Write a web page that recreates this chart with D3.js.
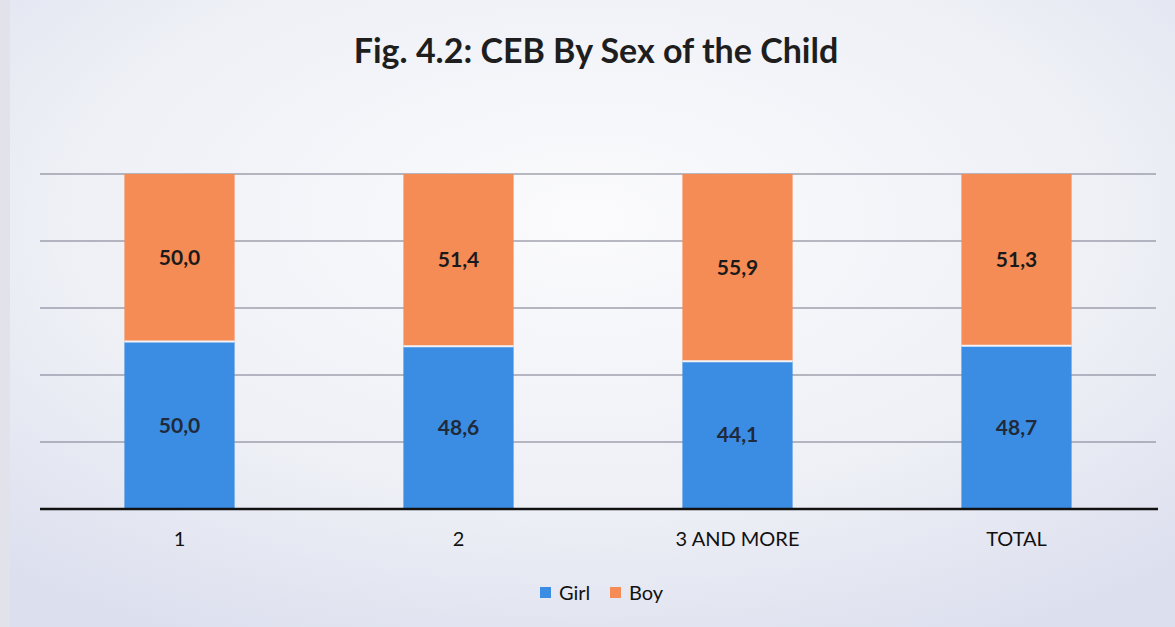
<!DOCTYPE html>
<html>
<head>
<meta charset="utf-8">
<script src="https://cdn.jsdelivr.net/npm/d3@7"></script>
<style>
  html, body { margin: 0; padding: 0; }
  body { width: 1175px; height: 627px; overflow: hidden; }
  svg { display: block; }
</style>
</head>
<body>
<svg id="chart" width="1175" height="627"></svg>
<script>
// Children ever born, share by sex of the child (%)
const categories = ["1", "2", "3 AND MORE", "TOTAL"];
const girl = [50.0, 48.6, 44.1, 48.7];
const boy = [50.0, 51.4, 55.9, 51.3];
const seriesNames = ["Girl", "Boy"];
const yTicks = [0, 20, 40, 60, 80, 100];

const W = 1175, H = 627;
const margin = { left: 40, right: 19, top: 174, bottom: 118 };
const svg = d3.select("#chart");
const FONT = "Lato, 'Open Sans', sans-serif";

// page background
const defs = svg.append("defs");
const bg = defs.append("radialGradient").attr("id", "bg")
  .attr("cx", "50%").attr("cy", "35%").attr("r", "75%");
bg.append("stop").attr("offset", "0%").attr("stop-color", "#fbfbfd");
bg.append("stop").attr("offset", "60%").attr("stop-color", "#eef0f6");
bg.append("stop").attr("offset", "100%").attr("stop-color", "#dcdfee");
svg.append("rect").attr("width", W).attr("height", H).attr("fill", "url(#bg)");
svg.append("rect").attr("width", 10).attr("height", H).attr("fill", "#e2e3ea");

const fmt = v => v.toFixed(1).replace(".", ",");

const x = d3.scaleBand()
  .domain(categories)
  .range([margin.left, W - margin.right])
  .paddingInner(0.605)
  .paddingOuter(0.3025);

const y = d3.scaleLinear()
  .domain([0, 100])
  .range([H - margin.bottom, margin.top]);

const colors = d3.scaleOrdinal().domain(seriesNames).range(["#3b8de3", "#f58b55"]);

// horizontal gridlines
svg.append("g")
  .selectAll("line")
  .data(yTicks.slice(1))
  .join("line")
  .attr("x1", margin.left).attr("x2", W - margin.right)
  .attr("y1", d => y(d)).attr("y2", d => y(d))
  .attr("stroke", "#8c8c9c").attr("stroke-width", 1.3).attr("opacity", 0.8);

// stacked bars
const rows = categories.map((c, i) => ({ cat: c, Girl: girl[i], Boy: boy[i] }));
const stacked = d3.stack().keys(seriesNames)(rows);

const layers = svg.append("g").selectAll("g")
  .data(stacked)
  .join("g")
  .attr("fill", d => colors(d.key));

layers.selectAll("rect")
  .data(d => d)
  .join("rect")
  .attr("x", d => x(d.data.cat))
  .attr("width", x.bandwidth())
  .attr("y", d => y(d[1]))
  .attr("height", d => y(d[0]) - y(d[1]));

// thin separators between the stacked segments
svg.append("g").selectAll("line")
  .data(rows)
  .join("line")
  .attr("x1", d => x(d.cat)).attr("x2", d => x(d.cat) + x.bandwidth())
  .attr("y1", d => y(d.Girl)).attr("y2", d => y(d.Girl))
  .attr("stroke", "#f3f3f6").attr("stroke-width", 2);

// value labels
layers.selectAll("text")
  .data(d => d.map(s => ({ s, key: d.key })))
  .join("text")
  .attr("x", d => x(d.s.data.cat) + x.bandwidth() / 2)
  .attr("y", d => (y(d.s[0]) + y(d.s[1])) / 2)
  .attr("dy", "0.35em")
  .attr("text-anchor", "middle")
  .attr("font-family", FONT)
  .attr("font-weight", "bold")
  .attr("font-size", 21)
  .attr("fill", d => d.key === "Girl" ? "#1f2a3a" : "#1a1a1a")
  .text(d => fmt(d.s[1] - d.s[0]));

// category axis
const xAxis = svg.append("g")
  .attr("transform", `translate(0,${y(0)})`)
  .call(d3.axisBottom(x).tickSize(0).tickPadding(23));
xAxis.select(".domain")
  .attr("d", `M${margin.left},0H${W - margin.right + 2}`)
  .attr("stroke", "#111").attr("stroke-width", 2.5);
xAxis.selectAll("text")
  .attr("font-family", FONT)
  .attr("font-size", 20)
  .attr("fill", "#111");

// title
svg.append("text")
  .attr("x", 596).attr("y", 63)
  .attr("text-anchor", "middle")
  .attr("font-family", FONT)
  .attr("font-weight", "bold")
  .attr("font-size", 34)
  .attr("fill", "#1e1e1e")
  .text("Fig. 4.2: CEB By Sex of the Child");

// legend
const legend = svg.append("g").attr("transform", "translate(540,593)");
const items = legend.selectAll("g")
  .data(seriesNames)
  .join("g")
  .attr("transform", (d, i) => `translate(${i * 70},0)`);
items.append("rect")
  .attr("x", 0).attr("y", -6).attr("width", 11).attr("height", 11)
  .attr("fill", d => colors(d));
items.append("text")
  .attr("x", 19).attr("y", 0).attr("dy", "0.35em")
  .attr("font-family", FONT)
  .attr("font-size", 20)
  .attr("fill", "#111")
  .text(d => d);
</script>
</body>
</html>
